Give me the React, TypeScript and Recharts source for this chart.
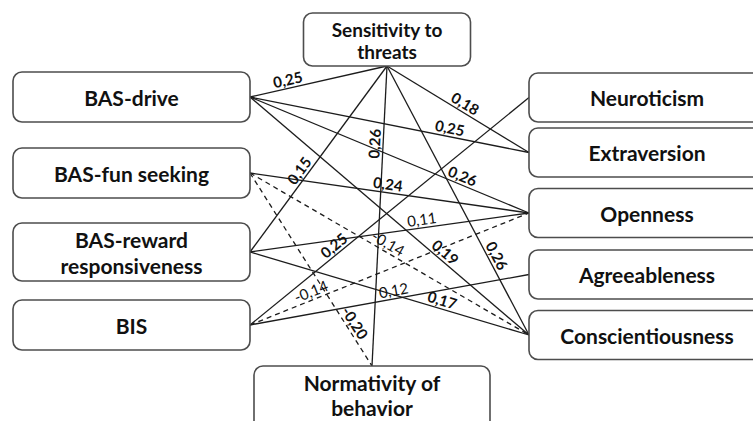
import { ScatterChart, Scatter, XAxis, YAxis, ReferenceLine } from 'recharts'

const W = 753
const H = 421
const FONT = 'Lato, "Open Sans", sans-serif'

// left column: BAS/BIS scales, anchored at their right edge
const predictors = ['BAS-drive', 'BAS-fun seeking', 'BAS-reward|responsiveness', 'BIS']
const predictorRow = [97, 173, 252, 325]

// right column: Big Five traits, anchored at their left edge
const traits = ['Neuroticism', 'Extraversion', 'Openness', 'Agreeableness', 'Conscientiousness']
const traitRow = [97.5, 152.5, 213, 274.5, 335]

// mediators: the top one is anchored at its bottom, the bottom one at its top
const mediators = ['Sensitivity to|threats', 'Normativity of|behavior']
const mediatorCol = [387, 372]
const mediatorRow = [66, 366]

const LEFT_COL = 250
const RIGHT_COL = 529

// [from, to, coefficient, where the coefficient sits along the path]
const paths: [string, string, number, number][] = [
  ['BAS-drive', 'Sensitivity to threats', 0.25, 0.29],
  ['Sensitivity to threats', 'Extraversion', 0.18, 0.52],
  ['BAS-drive', 'Extraversion', 0.25, 0.71],
  ['BAS-drive', 'Openness', 0.26, 0.75],
  ['Sensitivity to threats', 'Normativity of behavior', 0.26, 0.26],
  ['BAS-reward responsiveness', 'Sensitivity to threats', 0.15, 0.41],
  ['BAS-fun seeking', 'Openness', 0.24, 0.49],
  ['BAS-reward responsiveness', 'Openness', 0.11, 0.62],
  ['BAS-fun seeking', 'Conscientiousness', -0.14, 0.48],
  ['BAS-drive', 'Conscientiousness', 0.19, 0.68],
  ['Sensitivity to threats', 'Conscientiousness', 0.26, 0.72],
  ['BIS', 'Neuroticism', 0.25, 0.32],
  ['BIS', 'Openness', -0.14, 0.23],
  ['BIS', 'Agreeableness', 0.12, 0.52],
  ['BAS-reward responsiveness', 'Conscientiousness', 0.17, 0.68],
  ['BAS-fun seeking', 'Normativity of behavior', -0.2, 0.8],
]

type Side = 'left' | 'right' | 'top' | 'bottom'
interface Node { name: string; x: number; y: number; side: Side }

const nodes: Node[] = [
  ...predictors.map((name, i) => ({ name, x: LEFT_COL, y: predictorRow[i], side: 'left' as Side })),
  ...traits.map((name, i) => ({ name, x: RIGHT_COL, y: traitRow[i], side: 'right' as Side })),
  ...mediators.map((name, i) => ({
    name,
    x: mediatorCol[i],
    y: mediatorRow[i],
    side: (i === 0 ? 'top' : 'bottom') as Side,
  })),
]

const byName: Record<string, Node> = Object.fromEntries(nodes.map((n) => [n.name.replace('|', ' '), n]))

// axes are 1:1 with pixels, so the angle in data space is the angle on screen
const edges = paths.map(([from, to, coef, at]) => {
  const a = byName[from]
  const b = byName[to]
  let angle = (Math.atan2(b.y - a.y, b.x - a.x) * 180) / Math.PI
  if (angle > 90) angle -= 180
  if (angle <= -90) angle += 180
  return {
    a,
    b,
    coef,
    angle,
    x: a.x + (b.x - a.x) * at,
    y: a.y + (b.y - a.y) * at,
  }
})

const fmt = (v: number) => v.toFixed(2).replace('.', ',')

function NodeBox(props: any) {
  const { cx, cy, payload } = props
  const lines: string[] = payload.name.split('|')
  const two = lines.length > 1
  let x = 0
  let y = 0
  let w = 236
  let h = 50
  let mid = cy
  let gap = 26
  let size = 21
  if (payload.side === 'left') {
    w = 237
    h = two ? 58 : 50
    x = cx - w
    y = cy - h / 2
  } else if (payload.side === 'right') {
    h = 49
    x = cx
    y = cy - h / 2
  } else if (payload.side === 'top') {
    w = 167
    h = 53
    x = cx - w / 2
    y = cy - h
    mid = y + h / 2 + 1
    gap = 22
    size = 19
  } else {
    h = 80
    x = cx - w / 2
    y = cy
    mid = y + 29
    gap = 25
  }
  const tx = x + w / 2
  return (
    <g>
      <rect x={x} y={y} width={w} height={h} rx={9} ry={9} fill="#fff" stroke="#4d4d4d" strokeWidth={1.6} />
      {lines.map((line, i) => (
        <text
          key={line}
          x={tx}
          y={mid + (i - (lines.length - 1) / 2) * gap}
          textAnchor="middle"
          dominantBaseline="central"
          fontFamily={FONT}
          fontWeight={700}
          fontSize={size}
          fill="#111"
        >
          {line}
        </text>
      ))}
    </g>
  )
}

function Coef(props: any) {
  const { cx, cy, payload } = props
  return (
    <g transform={`translate(${cx},${cy}) rotate(${payload.angle})`}>
      <text
        x={0}
        y={-9}
        textAnchor="middle"
        dominantBaseline="central"
        fontFamily={FONT}
        fontWeight={Math.abs(payload.coef) < 0.15 ? 400 : 700}
        fontSize={15}
        fill="#111"
      >
        {fmt(payload.coef)}
      </text>
    </g>
  )
}

export default function App() {
  return (
    <div style={{ position: 'absolute', left: 0, top: 0, width: W, height: H, background: '#fff' }}>
      <ScatterChart width={W} height={H} margin={{ top: 0, right: 0, bottom: 0, left: 0 }}>
        <XAxis type="number" dataKey="x" domain={[0, W]} hide />
        <YAxis type="number" dataKey="y" domain={[0, H]} reversed hide />
        {edges.map((e, i) => (
          <ReferenceLine
            key={i}
            segment={[
              { x: e.a.x, y: e.a.y },
              { x: e.b.x, y: e.b.y },
            ]}
            stroke="#1c1c1c"
            strokeWidth={1.3}
            strokeDasharray={e.coef < 0 ? '5 4' : undefined}
            ifOverflow="visible"
          />
        ))}
        <Scatter data={nodes} shape={NodeBox} isAnimationActive={false} />
        <Scatter data={edges} shape={Coef} isAnimationActive={false} />
      </ScatterChart>
    </div>
  )
}
